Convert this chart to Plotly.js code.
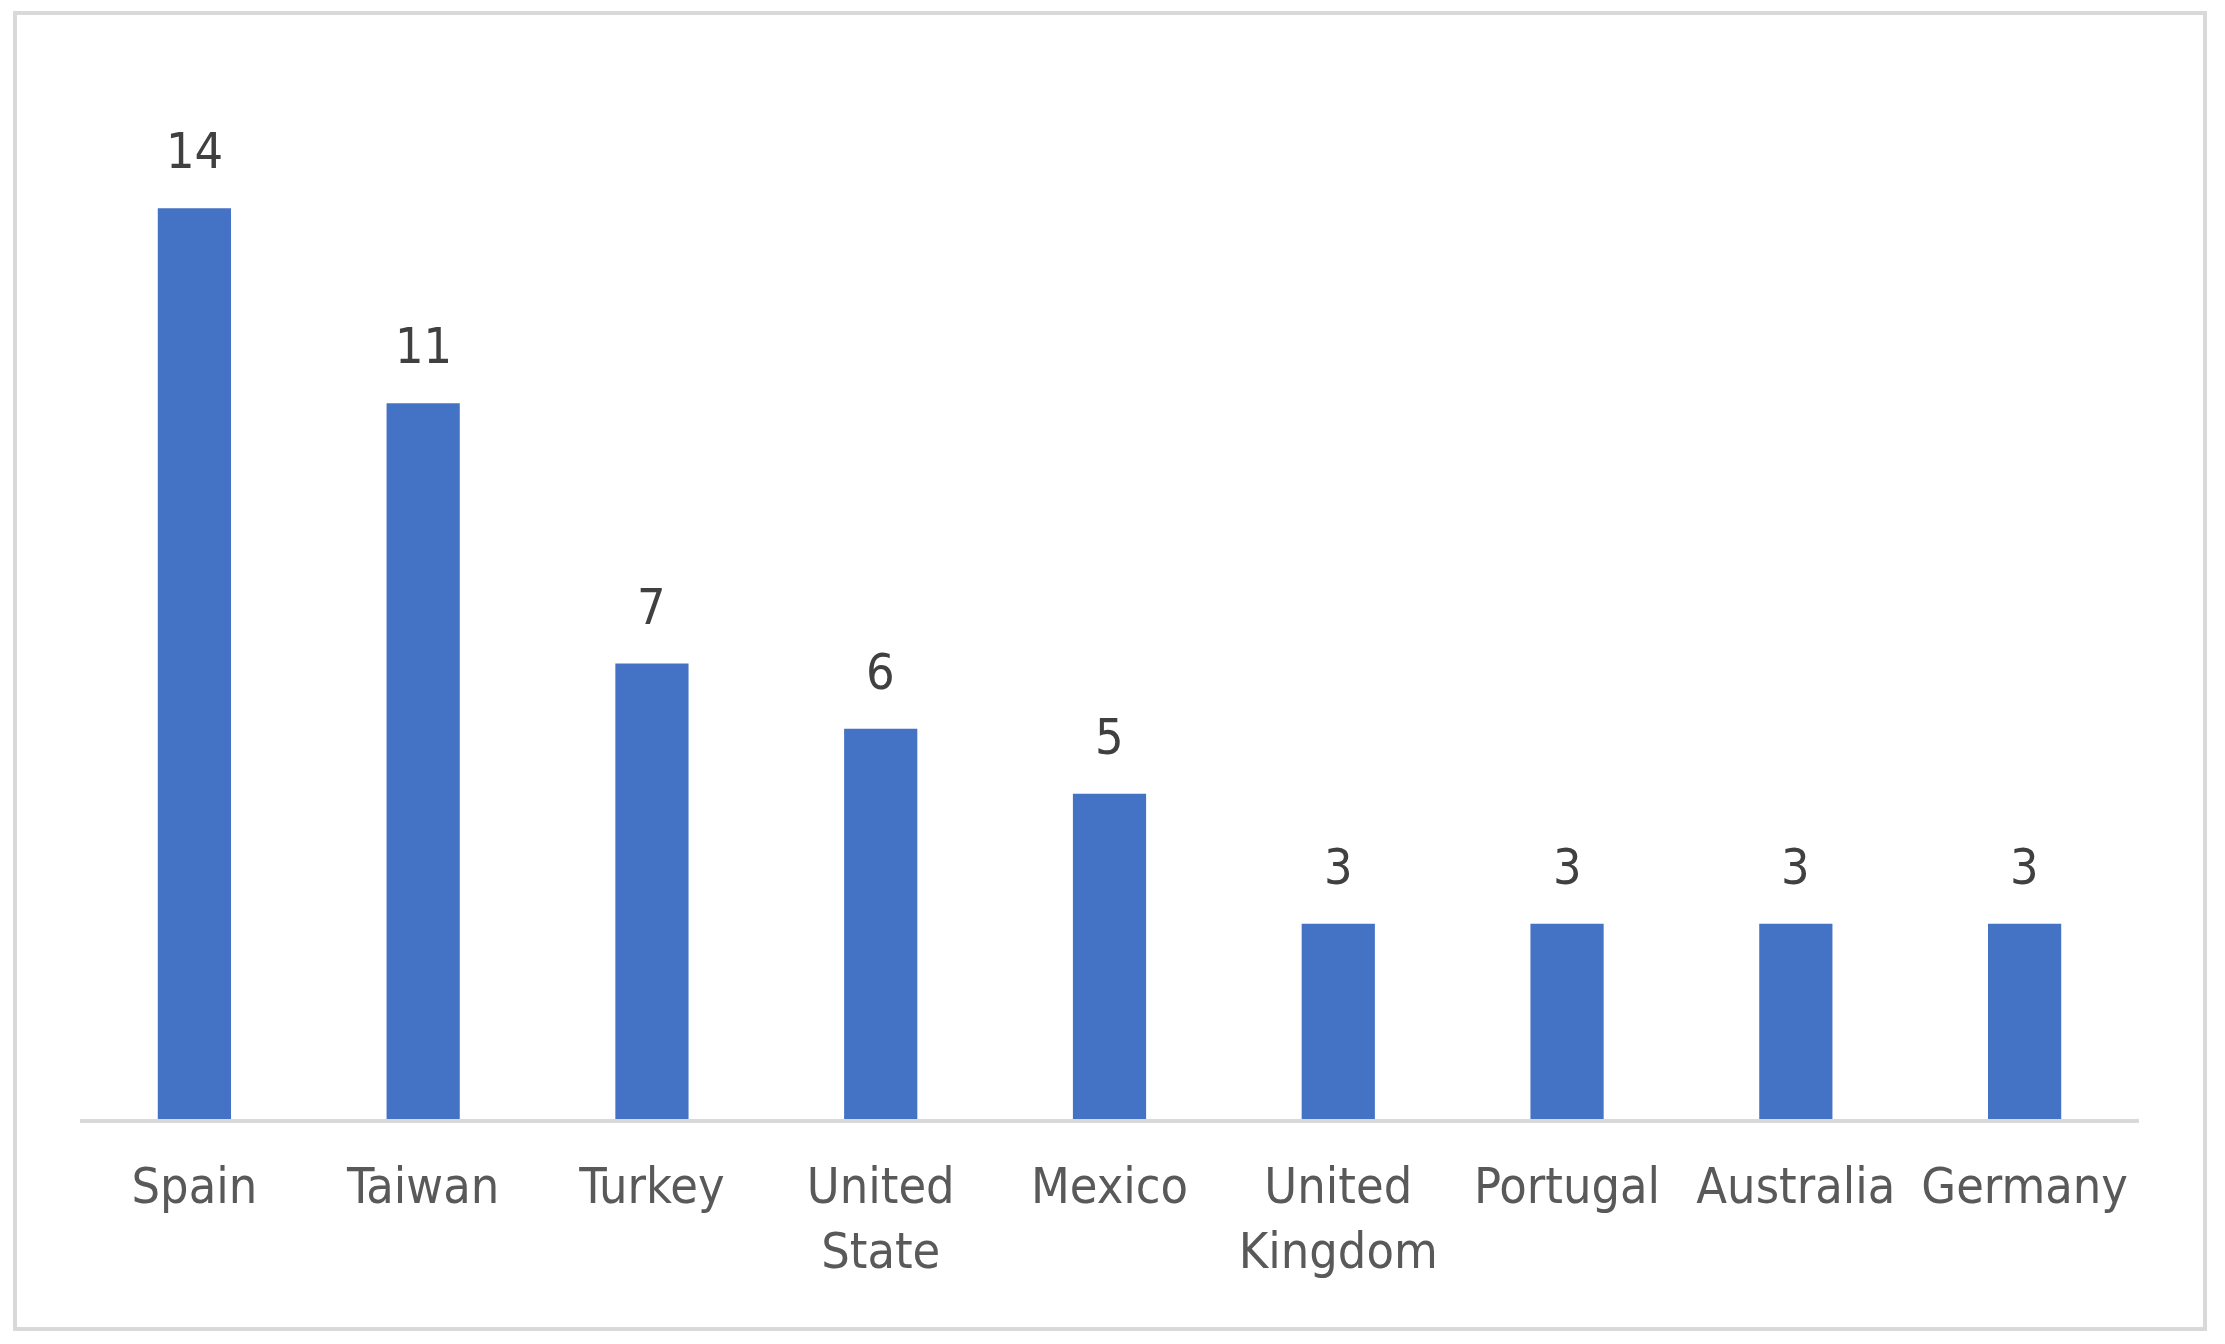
<!DOCTYPE html>
<html>
<head>
<meta charset="utf-8">
<script src="https://cdn.plot.ly/plotly-3.0.1.min.js"></script>
<style>
  html, body { margin: 0; padding: 0; background: #ffffff; }
  #wrap { position: relative; width: 2225px; height: 1344px; }
  #frame { position: absolute; left: 13px; top: 11px; width: 2194px; height: 1320px;
           border: 4px solid #d9d9d9; box-sizing: border-box; pointer-events: none; z-index: 2; }
  #chart { position: absolute; left: 0; top: 0; width: 2225px; height: 1344px; }
</style>
</head>
<body>
<div id="wrap">
  <div id="chart"></div>
  <div id="frame"></div>
</div>
<script>
const categories = ["Spain", "Taiwan", "Turkey", "United<br>State", "Mexico", "United<br>Kingdom", "Portugal", "Australia", "Germany"];
const values = [14, 11, 7, 6, 5, 3, 3, 3, 3];

const FONT = "'Liberation Sans Narrow', 'DejaVu Sans Condensed', 'Arial Narrow', 'Liberation Sans', sans-serif";

const trace = {
  type: 'bar',
  x: categories,
  y: values,
  marker: { color: '#4472C4', line: { width: 0 } },
  hoverinfo: 'none'
};

const annotations = categories.map((c, i) => ({
  x: c, y: values[i], xref: 'x', yref: 'y',
  text: String(values[i]), showarrow: false,
  yanchor: 'bottom', yshift: 26,
  font: { family: FONT, size: 50, color: '#404040' }
}));

const layout = {
  width: 2225, height: 1344,
  margin: { l: 80, r: 86, t: 78, b: 225 },
  paper_bgcolor: '#ffffff', plot_bgcolor: '#ffffff',
  bargap: 0.68,
  showlegend: false,
  xaxis: {
    type: 'category',
    showline: true, linecolor: '#d9d9d9', linewidth: 4,
    showgrid: false, zeroline: false, ticks: '',
    tickfont: { family: FONT, size: 50, color: '#595959' },
    ticklabelstandoff: 20,
    fixedrange: true
  },
  yaxis: {
    range: [0, 16],
    visible: false, showgrid: false, zeroline: false,
    fixedrange: true
  },
  annotations: annotations
};

Plotly.newPlot('chart', [trace], layout, { staticPlot: true, displayModeBar: false });
</script>
</body>
</html>
